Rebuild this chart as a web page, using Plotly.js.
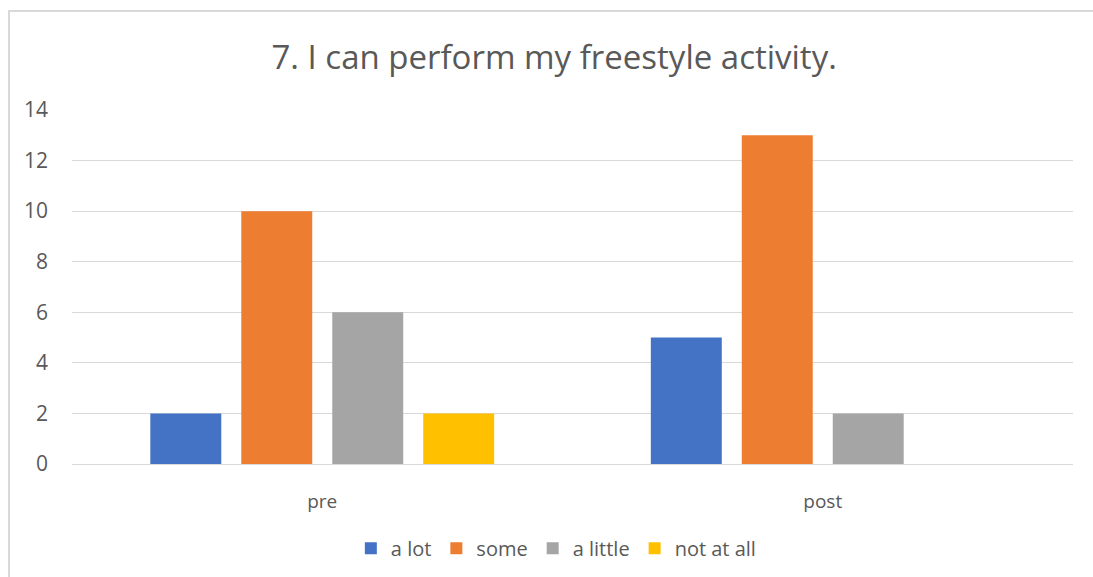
<!DOCTYPE html>
<html>
<head>
<meta charset="utf-8">
<script src="https://cdn.plot.ly/plotly-3.0.1.min.js"></script>
<style>
  html, body { margin: 0; padding: 0; background: #fff; overflow: hidden; }
  #wrap { position: relative; width: 1093px; height: 577px; }
  #chart { position: absolute; left: 0; top: 0; width: 1093px; height: 577px; }
  #frame { position: absolute; left: 8px; top: 10px; width: 1200px; height: 700px;
           border-left: 2px solid #d9d9d9; border-top: 2px solid #d9d9d9; pointer-events: none; }
</style>
</head>
<body>
<div id="wrap">
  <div id="chart"></div>
  <div id="frame"></div>
</div>
<script>
const categories = ["pre", "post"];
const seriesNames = ["a lot", "some", "a little", "not at all"];
const aLot = [2, 5];
const some = [10, 13];
const aLittle = [6, 2];
const notAtAll = [2, 0];
const colors = ["#4472C4", "#ED7D31", "#A5A5A5", "#FFC000"];
const yTicks = [0, 2, 4, 6, 8, 10, 12, 14];

const values = [aLot, some, aLittle, notAtAll];
const font = "Open Sans, Noto Sans, sans-serif";
const traces = values.map((v, i) => ({
  type: "bar",
  name: seriesNames[i],
  x: categories,
  y: v,
  marker: { color: colors[i] },
  hoverinfo: "none"
}));

const layout = {
  width: 1093,
  height: 577,
  margin: { l: 72, r: 20, t: 110, b: 113 },
  paper_bgcolor: "#ffffff",
  plot_bgcolor: "#ffffff",
  font: { family: font, color: "#595959", size: 18 },
  title: {
    text: "7. I can perform my freestyle activity.",
    font: { family: font, size: 33, color: "#595959" },
    xref: "container", x: 0.507, xanchor: "center",
    yref: "container", y: 0.901, yanchor: "middle"
  },
  barmode: "group",
  bargap: 0.273,
  bargroupgap: 0.22,
  xaxis: {
    type: "category",
    showgrid: false,
    showline: true,
    linecolor: "#d9d9d9",
    linewidth: 1,
    ticks: "",
    ticklabelstandoff: 20,
    tickfont: { family: font, size: 19, color: "#595959" },
    fixedrange: true
  },
  yaxis: {
    range: [0, 14],
    tickvals: yTicks,
    ticktext: yTicks.map(String),
    showgrid: true,
    gridcolor: "#d9d9d9",
    gridwidth: 1,
    zeroline: true,
    zerolinecolor: "#d9d9d9",
    zerolinewidth: 1,
    showline: false,
    ticks: "",
    ticklabelstandoff: 23,
    tickfont: { family: font, size: 21, color: "#595959" },
    fixedrange: true
  },
  showlegend: true,
  legend: {
    orientation: "h",
    xref: "container", x: 0.509, xanchor: "center",
    yref: "container", y: 0.05, yanchor: "middle",
    font: { family: font, size: 20, color: "#595959" },
    itemwidth: 30,
    tracegroupgap: 0,
    bgcolor: "rgba(0,0,0,0)"
  }
};

Plotly.newPlot("chart", traces, layout, { displayModeBar: false, staticPlot: true });
</script>
</body>
</html>
